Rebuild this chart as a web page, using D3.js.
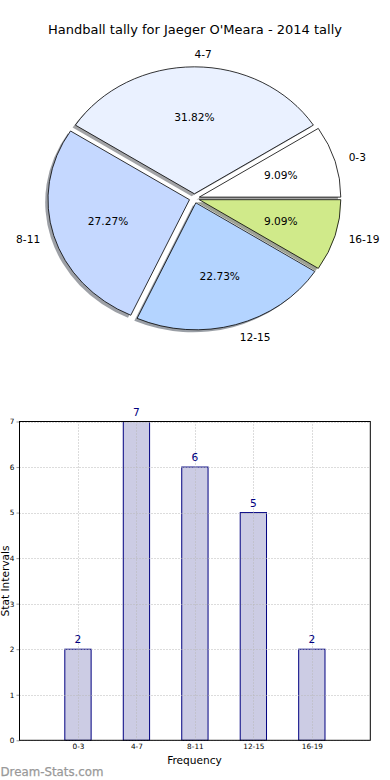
<!DOCTYPE html>
<html><head><meta charset="utf-8">
<script src="https://cdn.jsdelivr.net/npm/d3@7"></script>
<style>
html,body{margin:0;padding:0;background:#fff;}
svg{display:block;font-family:"DejaVu Sans",sans-serif;}
</style></head>
<body>
<svg id="c" width="390" height="780"></svg>
<script>
const title = "Handball tally for Jaeger O'Meara - 2014 tally";
const categories = ["0-3","4-7","8-11","12-15","16-19"];
const values = [2,7,6,5,2];
const pieColors = ["#ffffff","#eaf1ff","#c5d8ff","#b4d4ff","#d0ea8a"];
const yTicks = [0,1,2,3,4,5,6,7];
const xLabel = "Frequency";
const yLabel = "Stat Intervals";
const watermark = "Dream-Stats.com";

const svg = d3.select("#c");
const total = d3.sum(values);

// Title
svg.append("text").attr("x",195).attr("y",34.3).attr("text-anchor","middle")
  .attr("font-size",13).attr("fill","#000").text(title);

// ---- Pie ----
const cx = 194.4, cy = 198.4, rx = 141.5, ry = 127;
const explode = 0.036;
const pie = d3.pie().sort(null).startAngle(Math.PI/2).endAngle(Math.PI/2 - 2*Math.PI);
const arcs = pie(values);
const arcGen = d3.arc().innerRadius(0).outerRadius(1);
const pg = svg.append("g");
function offs(a, k){
  const m = (a.startAngle + a.endAngle)/2;
  return [Math.sin(m)*k, -Math.cos(m)*k];
}
// shadows
arcs.forEach((a,i)=>{
  const [ox,oy] = offs(a, explode);
  const c = d3.rgb(pieColors[i]);
  const sc = d3.rgb(c.r*0.3, c.g*0.3, c.b*0.3);
  pg.append("path").attr("d", arcGen(a))
    .attr("transform", `translate(${cx + ox*rx - 2.8},${cy + oy*ry + 2.5}) scale(${rx},${ry})`)
    .attr("fill", sc.formatHex()).attr("fill-opacity",0.5).attr("stroke","none");
});
arcs.forEach((a,i)=>{
  const [ox,oy] = offs(a, explode);
  pg.append("path").attr("d", arcGen(a))
    .attr("transform", `translate(${cx + ox*rx},${cy + oy*ry}) scale(${rx},${ry})`)
    .attr("fill", pieColors[i]).attr("stroke","#000").attr("stroke-width",0.8)
    .attr("vector-effect","non-scaling-stroke");
});
arcs.forEach((a,i)=>{
  const [ox,oy] = offs(a, explode);
  const [ux,uy] = offs(a, 1);
  const bx = cx + ox*rx, by = cy + oy*ry;
  const lx = bx + ux*rx*1.1, ly = by + uy*ry*1.1;
  pg.append("text").attr("x",lx).attr("y",ly).attr("dy","0.35em")
    .attr("text-anchor", ux >= -1e-9 ? "start" : "end")
    .attr("font-size",10.6).attr("fill","#000").text(categories[i]);
  pg.append("text").attr("x",bx + ux*rx*0.6).attr("y",by + uy*ry*0.6).attr("dy","0.35em")
    .attr("text-anchor","middle").attr("font-size",10.6).attr("fill","#000")
    .text((values[i]/total*100).toFixed(2)+"%");
});

// ---- Bar chart ----
const L = 19.5, R = 370.3, T = 421.5, B = 740.3;
const x = d3.scaleLinear().domain([0,6]).range([L,R]);
const y = d3.scaleLinear().domain([0,7]).range([B,T]);
const bw = 0.45;
const bg = svg.append("g");
// bars
bg.selectAll("rect.bar").data(values).join("rect").attr("class","bar")
  .attr("x",(d,i)=>x(i+1-bw/2)).attr("width",x(bw)-x(0))
  .attr("y",d=>y(d)).attr("height",d=>y(0)-y(d))
  .attr("fill","#ccccE4").attr("stroke","#000080").attr("stroke-width",1);
// grid
const grid = bg.append("g").attr("stroke","#b8b8b8").attr("stroke-width",1).attr("stroke-dasharray","1,2");
yTicks.forEach(t=>{
  grid.append("line").attr("x1",L).attr("x2",R).attr("y1",Math.round(y(t))+0.5).attr("y2",Math.round(y(t))+0.5);
});
categories.forEach((c,i)=>{
  const px = Math.round(x(i+1))+0.5;
  grid.append("line").attr("x1",px).attr("x2",px).attr("y1",T).attr("y2",B);
});
// axes via d3
const yAxis = d3.axisLeft(y).tickValues(yTicks).tickSize(3).tickPadding(2).tickFormat(d3.format("d"));
const ya = bg.append("g").attr("transform",`translate(${L},0)`).call(yAxis);
ya.select(".domain").remove();
ya.selectAll("line").attr("stroke","#999");
ya.selectAll("text").attr("font-size",7.3).attr("font-family","DejaVu Sans").attr("fill","#000");
const xAxis = d3.axisBottom(x).tickValues(categories.map((c,i)=>i+1)).tickSize(0).tickPadding(4)
  .tickFormat((d,i)=>categories[i]);
const xa = bg.append("g").attr("transform",`translate(0,${B})`).call(xAxis);
xa.select(".domain").remove();
xa.selectAll("text").attr("font-size",7.3).attr("font-family","DejaVu Sans").attr("fill","#000");
// frame
bg.append("rect").attr("x",L).attr("y",T).attr("width",R-L).attr("height",B-T)
  .attr("fill","none").attr("stroke","#000").attr("stroke-width",1);
// value labels
bg.selectAll("text.val").data(values).join("text").attr("class","val")
  .attr("x",(d,i)=>x(i+1)).attr("y",d=>y(d)-5.8).attr("text-anchor","middle")
  .attr("font-size",10.6).attr("fill","#000080").text(d=>d);
// axis labels
svg.append("text").attr("x",194.5).attr("y",764.3).attr("text-anchor","middle")
  .attr("font-size",10.6).attr("fill","#000").text(xLabel);
svg.append("text").attr("transform","translate(8.5,581) rotate(-90)").attr("text-anchor","middle")
  .attr("font-size",10.6).attr("fill","#000").text(yLabel);
// watermark
svg.append("text").attr("x",0.5).attr("y",775.5).attr("font-size",11.8)
  .attr("fill","#999999").attr("stroke","#999999").attr("stroke-width",0.25).text(watermark);
</script>
</body></html>
